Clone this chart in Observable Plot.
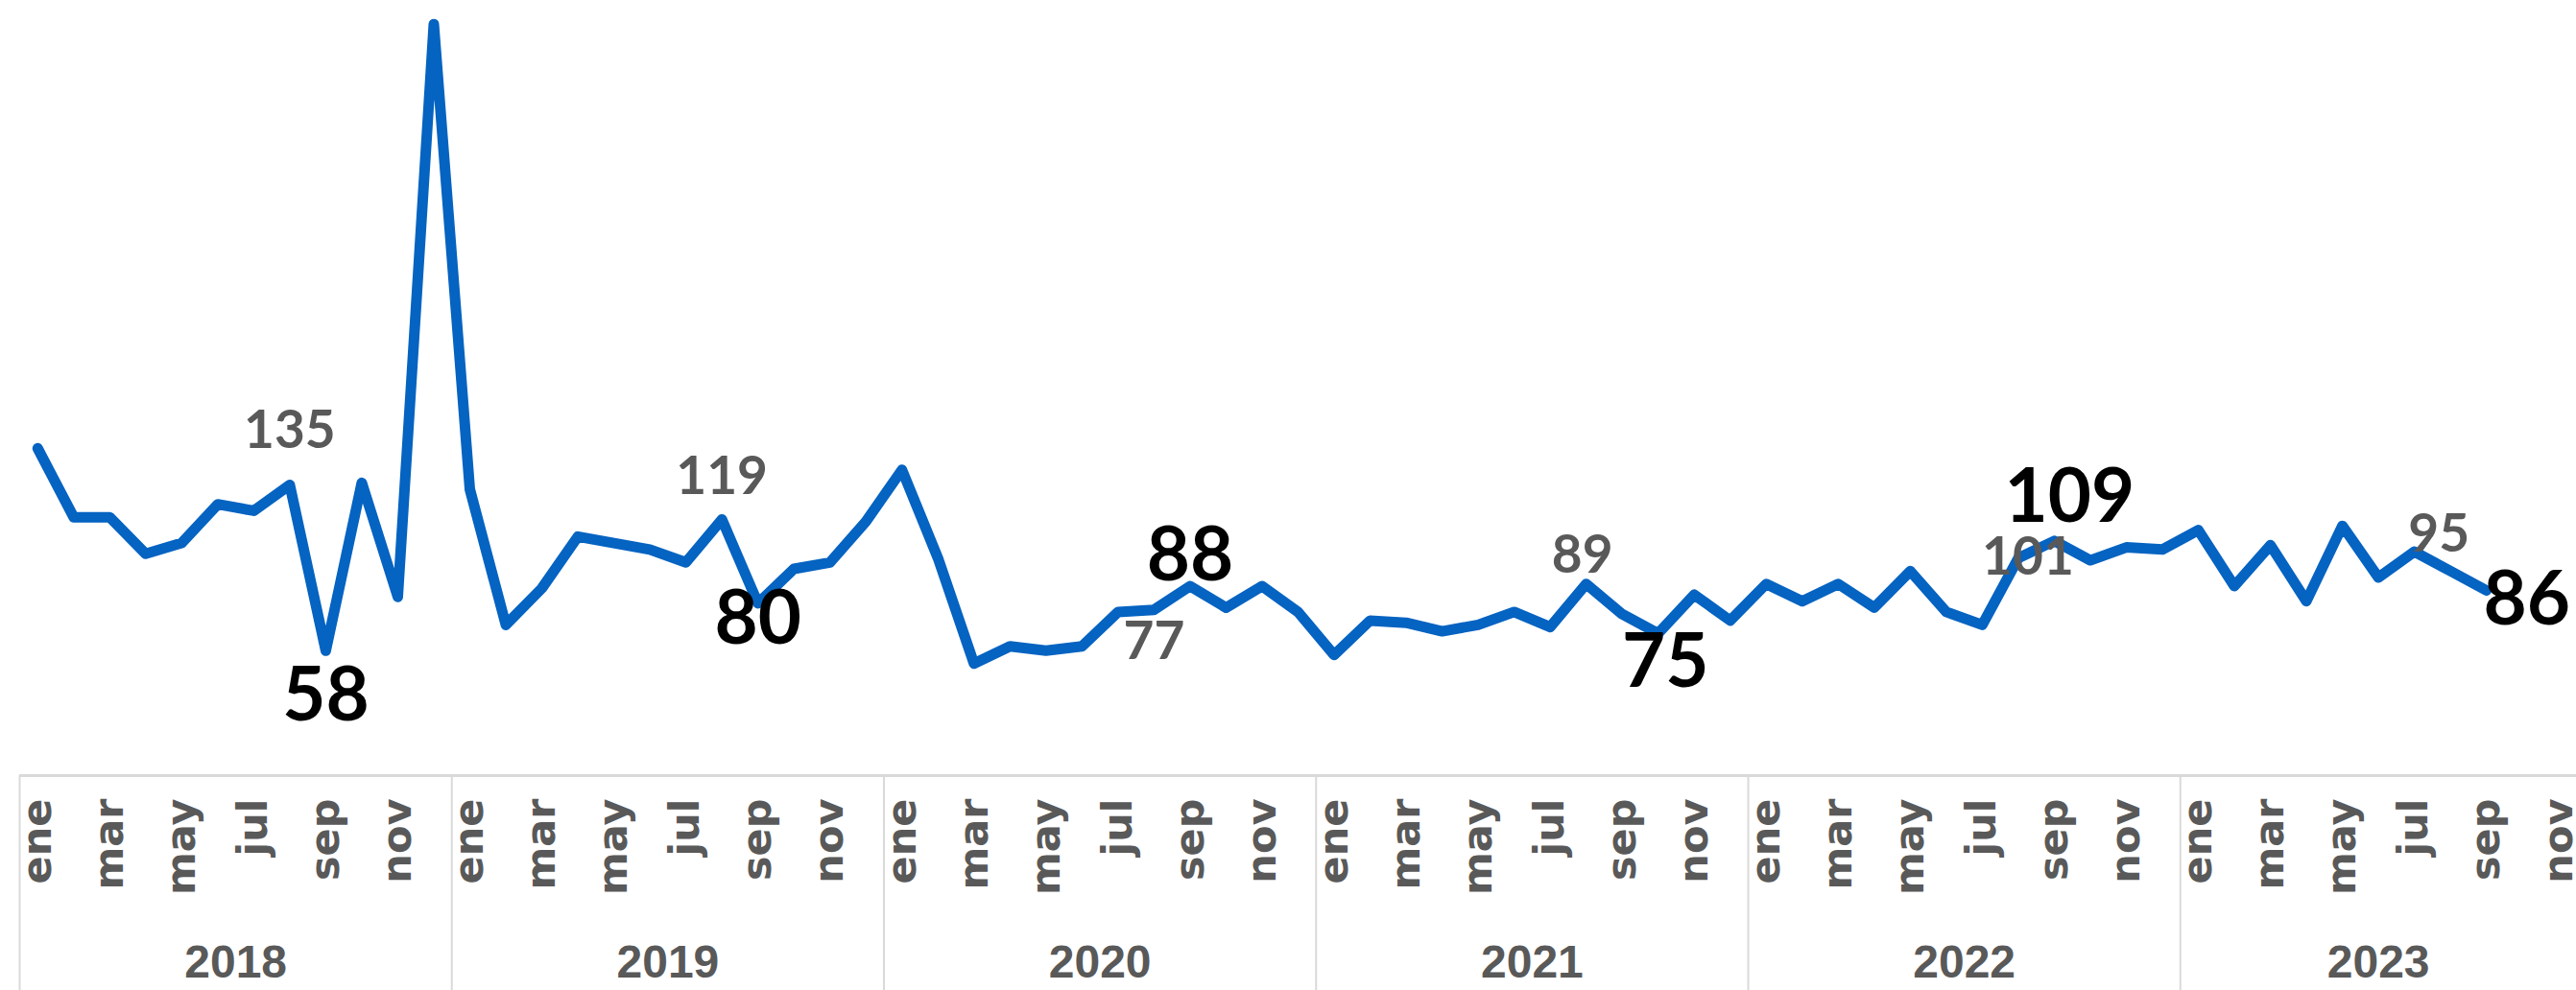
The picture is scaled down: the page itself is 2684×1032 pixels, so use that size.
<!DOCTYPE html>
<html>
<head>
<meta charset="utf-8">
<script src="https://cdn.jsdelivr.net/npm/d3@7"></script>
<script src="https://cdn.jsdelivr.net/npm/@observablehq/plot@0.6"></script>
<style>
  html, body { margin: 0; padding: 0; background: #ffffff; }
  #chart svg { display: block; }
</style>
</head>
<body>
<div id="chart"></div>
<script>
// ---- data ----
const years = ["2018", "2019", "2020", "2021", "2022", "2023"];
const monthNames = ["ene", "feb", "mar", "abr", "may", "jun", "jul", "ago", "sep", "oct", "nov", "dic"];
const axisMonthsPerYear = [12, 12, 12, 12, 12, 11];
const values2018 = [152, 120, 120, 103, 108, 126, 123, 135, 58, 136, 83, 349];
const values2019 = [133, 70, 87, 111, 108, 105, 99, 119, 80, 96, 99, 118];
const values2020 = [142, 101, 52, 60, 58, 60, 76, 77, 88, 78, 88, 76];
const values2021 = [56, 72, 71, 67, 70, 76, 69, 89, 75, 66, 84, 72];
const values2022 = [89, 81, 89, 78, 95, 76, 70, 101, 109, 100, 106, 105];
const values2023 = [114, 88, 107, 81, 116, 92, 104, 95, 86];
const tickMonths = ["ene", "mar", "may", "jul", "sep", "nov"];
const grayLabelMonth = "ago";
const blackLabelMonth = "sep";

// ---- build table ----
const seriesByYear = [values2018, values2019, values2020, values2021, values2022, values2023];
const yearStart = [];
let acc = 0;
axisMonthsPerYear.forEach(n => { yearStart.push(acc); acc += n; });
const totalMonths = acc;
const data = [];
seriesByYear.forEach((vals, yi) => {
  vals.forEach((v, m) => data.push({ i: yearStart[yi] + m, year: years[yi], month: monthNames[m], value: v }));
});

const monthTicks = [];
axisMonthsPerYear.forEach((n, yi) => {
  for (let m = 0; m < n; m++) if (tickMonths.includes(monthNames[m])) monthTicks.push(yearStart[yi] + m);
});
const boundaries = yearStart.map(s => s - 0.5);
const yearCenters = yearStart.map((s, yi) => s - 0.5 + axisMonthsPerYear[yi] / 2);
const yearByCenter = new Map(yearCenters.map((c, k) => [c, years[k]]));
const monthOfIndex = i => {
  let yi = 0;
  while (yi + 1 < yearStart.length && yearStart[yi + 1] <= i) yi++;
  return monthNames[i - yearStart[yi]];
};

const grayLabels = data.filter(d => d.month === grayLabelMonth);
const blackLabels = data.filter(d => d.month === blackLabelMonth);
// label offsets (px) relative to their point, one per year
const grayOffsets = [[0, -56], [0, -44], [0, 34], [-4, -29], [10, 0], [-12, -38]];
const blackOffsets = [[0, 48], [0, 17], [0, -31], [45, 51], [16, -45], [42, 11]];

const labelFont = "Lato, 'Open Sans', sans-serif";

const marks = [
  Plot.axisX({ ticks: boundaries, tickSize: 224, tickFormat: () => "", label: null, stroke: "#D9D9D9", strokeWidth: 2, strokeOpacity: 1 }),
  Plot.ruleY([0], { stroke: "#D9D9D9", strokeWidth: 3 }),
  Plot.axisX({
    ticks: monthTicks, tickSize: 0, tickPadding: 24, tickRotate: -90, label: null,
    tickFormat: i => monthOfIndex(i),
    fontSize: 43, fontWeight: "bold", fontFamily: "'DejaVu Sans', sans-serif", fill: "#595959"
  }),
  Plot.axisX({
    ticks: yearCenters, tickSize: 0, tickPadding: 176, label: null,
    tickFormat: c => yearByCenter.get(c),
    fontSize: 48, fontWeight: "bold", fontFamily: "'Liberation Sans', sans-serif", fill: "#595959"
  }),
  Plot.line(data, { x: "i", y: "value", stroke: "#0563C1", strokeWidth: 11, strokeLinejoin: "round", strokeLinecap: "round" })
];
grayLabels.forEach((d, k) => marks.push(Plot.text([d], {
  x: "i", y: "value", text: "value", dx: grayOffsets[k][0], dy: grayOffsets[k][1],
  fontSize: 55, fontWeight: "bold", fontFamily: labelFont, fill: "#595959", lineAnchor: "middle"
})));
blackLabels.forEach((d, k) => marks.push(Plot.text([d], {
  x: "i", y: "value", text: "value", dx: blackOffsets[k][0], dy: blackOffsets[k][1],
  fontSize: 78, fontWeight: "bold", fontFamily: labelFont, fill: "#000000", lineAnchor: "middle"
})));

const chart = Plot.plot({
  width: 2684,
  height: 1032,
  marginLeft: 20,
  marginRight: 0,
  marginTop: 0,
  marginBottom: 224,
  x: { type: "linear", domain: [-0.5, totalMonths - 0.5], label: null },
  y: { domain: [0, 360], axis: null },
  style: { background: "#ffffff", overflow: "visible" },
  marks
});
document.getElementById("chart").appendChild(chart);
</script>
</body>
</html>
